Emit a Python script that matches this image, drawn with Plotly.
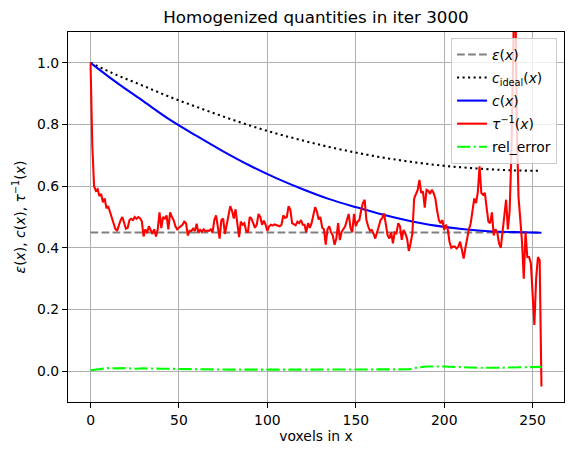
import plotly.graph_objects as go

# ---------------- data ----------------
voxels = list(range(256))

eps_x = [0, 255]
eps_vals = [0.45, 0.45]

c_x = [0, 15, 30, 45, 60, 75, 90, 105, 120, 135, 150, 165, 180, 195, 210, 225, 240, 255]
c_ideal_vals = [1.0, 0.96, 0.925, 0.889, 0.857, 0.826, 0.797, 0.771, 0.748, 0.727,
                0.709, 0.693, 0.68, 0.669, 0.661, 0.655, 0.651, 0.65]
c_vals = [1.0, 0.935, 0.875, 0.815, 0.763, 0.713, 0.667, 0.626, 0.59, 0.558,
          0.532, 0.508, 0.488, 0.472, 0.461, 0.454, 0.451, 0.449]

tau_inv_vals = [
    1.0, 0.73, 0.60, 0.585, 0.59, 0.568, 0.575, 0.548, 0.56, 0.528,          # 0-9
    0.535, 0.515, 0.495, 0.48, 0.462, 0.455, 0.473, 0.49, 0.50, 0.478,       # 10-19
    0.462, 0.465, 0.49, 0.494, 0.49, 0.50, 0.494, 0.50, 0.496, 0.486,        # 20-29
    0.437, 0.46, 0.448, 0.47, 0.455, 0.445, 0.46, 0.437, 0.46, 0.515,        # 30-39
    0.464, 0.50, 0.495, 0.505, 0.46, 0.515, 0.50, 0.49, 0.47, 0.46,          # 40-49
    0.465, 0.47, 0.475, 0.485, 0.48, 0.44, 0.455, 0.455, 0.462, 0.455,       # 50-59
    0.478, 0.448, 0.458, 0.453, 0.46, 0.453, 0.456, 0.455, 0.46, 0.45,       # 60-69
    0.49, 0.505, 0.46, 0.43, 0.49, 0.495, 0.445, 0.475, 0.50, 0.535,         # 70-79
    0.52, 0.495, 0.525, 0.47, 0.435, 0.485, 0.475, 0.48, 0.455, 0.45,        # 80-89
    0.50, 0.495, 0.48, 0.465, 0.475, 0.51, 0.50, 0.475, 0.488, 0.475,        # 90-99
    0.455, 0.47, 0.475, 0.472, 0.476, 0.474, 0.473, 0.47, 0.475, 0.505,      # 100-109
    0.497, 0.50, 0.535, 0.523, 0.48, 0.475, 0.473, 0.485, 0.48, 0.49,        # 110-119
    0.475, 0.475, 0.45, 0.48, 0.465, 0.48, 0.51, 0.532, 0.518, 0.492,        # 120-129
    0.50, 0.465, 0.46, 0.41, 0.46, 0.47, 0.45, 0.44, 0.41, 0.43,             # 130-139
    0.48, 0.425, 0.452, 0.462, 0.47, 0.49, 0.51, 0.465, 0.45, 0.51,          # 140-149
    0.47, 0.485, 0.49, 0.52, 0.545, 0.556, 0.49, 0.47, 0.455, 0.458,         # 150-159
    0.447, 0.43, 0.447, 0.469, 0.49, 0.497, 0.512, 0.475, 0.44, 0.43,        # 160-169
    0.45, 0.415, 0.45, 0.447, 0.48, 0.47, 0.426, 0.458, 0.447, 0.43,         # 170-179
    0.39, 0.415, 0.447, 0.56, 0.575, 0.588, 0.62, 0.578, 0.583, 0.53,        # 180-189
    0.588, 0.585, 0.575, 0.588, 0.578, 0.56, 0.52, 0.49, 0.48, 0.49,         # 190-199
    0.458, 0.475, 0.46, 0.42, 0.40, 0.404, 0.404, 0.398, 0.404, 0.42,        # 200-209
    0.394, 0.365, 0.40, 0.437, 0.46, 0.48, 0.525, 0.56, 0.545, 0.58,         # 210-219
    0.664, 0.578, 0.572, 0.578, 0.53, 0.485, 0.48, 0.515, 0.44, 0.46,        # 220-229
    0.45, 0.415, 0.40, 0.45, 0.50, 0.556, 0.46, 0.52, 0.70, 0.95,            # 230-239
    1.35, 0.82, 0.567, 0.494, 0.42, 0.30, 0.45, 0.37, 0.37, 0.35,            # 240-249
    0.24, 0.15, 0.30, 0.37, 0.36, -0.05,                                     # 250-255
]

err_x = [0, 5, 10, 15, 20, 25, 30, 40, 50, 60, 70, 80, 90, 100, 110, 120, 130, 140,
         150, 160, 170, 180, 185, 190, 200, 210, 220, 230, 240, 250, 255]
err_vals = [0.003, 0.006, 0.01, 0.009, 0.01, 0.008, 0.009, 0.008, 0.007, 0.005, 0.004,
            0.005, 0.005, 0.004, 0.005, 0.005, 0.005, 0.005, 0.005, 0.006, 0.005, 0.006,
            0.012, 0.015, 0.015, 0.012, 0.011, 0.011, 0.012, 0.015, 0.014]

x_ticks = [0, 50, 100, 150, 200, 250]
y_ticks = [0.0, 0.2, 0.4, 0.6, 0.8, 1.0]

assert len(tau_inv_vals) == len(voxels)

# ---------------- figure ----------------
FONT = "DejaVu Sans"
LW = 2.08

fig = go.Figure()
fig.add_trace(go.Scatter(x=eps_x, y=eps_vals, mode="lines", name="<i>ε</i>(<i>x</i>)",
                         legendgroup="a",
                         line=dict(color="#808080", width=LW, dash="7.7px,3.3px")))
fig.add_trace(go.Scatter(x=c_x, y=c_ideal_vals, mode="lines", line_shape="spline",
                         name="<i>c</i><sub>ideal</sub>(<i>x</i>)", legendgroup="b",
                         line=dict(color="black", width=LW, dash="2.1px,3.4px")))
fig.add_trace(go.Scatter(x=c_x, y=c_vals, mode="lines", line_shape="spline",
                         name="<i>c</i>(<i>x</i>)", legendgroup="c",
                         line=dict(color="#0000ff", width=LW)))
fig.add_trace(go.Scatter(x=voxels, y=tau_inv_vals, mode="lines",
                         name="<i>τ</i><sup>−1</sup>(<i>x</i>)", legendgroup="d",
                         line=dict(color="#ff0000", width=LW)))
fig.add_trace(go.Scatter(x=err_x, y=err_vals, mode="lines", name="rel_error",
                         legendgroup="e",
                         line=dict(color="#00ff00", width=LW,
                                   dash="13.3px,3.3px,2.1px,3.3px")))

axis_common = dict(
    showline=True, mirror=True, linecolor="black", linewidth=1.1,
    ticks="outside", ticklen=5, tickwidth=1.1, tickcolor="black",
    showgrid=True, gridcolor="#b0b0b0", gridwidth=1.1, zeroline=False,
    tickfont=dict(family=FONT, size=13.9, color="black"),
)

fig.update_layout(
    width=573, height=455,
    margin=dict(l=68, r=9, t=32, b=53),
    paper_bgcolor="white", plot_bgcolor="white",
    font=dict(family=FONT, size=13.9, color="black"),
    title=dict(text="Homogenized quantities in iter 3000", x=0.5, xref="paper",
               xanchor="center", y=1 - 17.5 / 455, yref="container", yanchor="middle",
               font=dict(family=FONT, size=16.7, color="black")),
    xaxis=dict(range=[-12.75, 267.75], tickvals=x_ticks,
               title=dict(text="voxels in x", standoff=4,
                          font=dict(family=FONT, size=13.9)),
               **axis_common),
    yaxis=dict(range=[-0.1, 1.1], tickvals=y_ticks, tickformat=".1f",
               title=dict(text="<i>ε</i>(<i>x</i>), <i>c</i>(<i>x</i>), <i>τ</i><sup>−1</sup>(<i>x</i>)",
                          standoff=8, font=dict(family=FONT, size=13.9)),
               **axis_common),
    showlegend=True,
    legend=dict(x=0.986, y=0.984, xanchor="right", yanchor="top",
                bgcolor="rgba(255,255,255,0.8)", bordercolor="#cccccc", borderwidth=1,
                font=dict(family=FONT, size=13.9, color="black"),
                itemwidth=30, tracegroupgap=2, traceorder="grouped"),
)

fig.write_html("out.html")
